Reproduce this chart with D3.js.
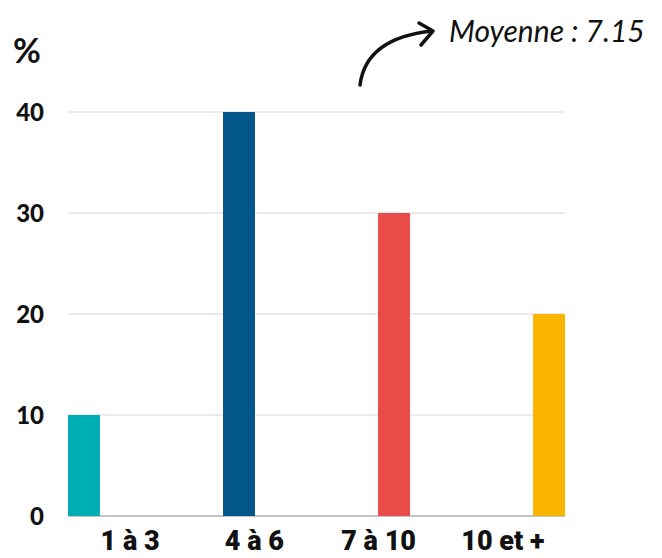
<!DOCTYPE html>
<html>
<head>
<meta charset="utf-8">
<script src="https://cdn.jsdelivr.net/npm/d3@7"></script>
<style>
  body { margin: 0; background: #fff; }
</style>
</head>
<body>
<div class="chart"></div>
<script>
// data
var categories = ["1 à 3", "4 à 6", "7 à 10", "10 et +"];
var values = [10, 40, 30, 20];
var colors = ["#00afb3", "#02568a", "#e84b48", "#fab500"];
var yTicks = [0, 10, 20, 30, 40];
var meanLabel = "Moyenne : 7.15";

var svgWidth = 662;
var svgHeight = 558;

var svg = d3.select(".chart")
    .append("svg")
    .attr("width", svgWidth)
    .attr("height", svgHeight);

// scales
var y = d3.scaleLinear()
    .domain([0, 40])
    .range([516, 112]);

// bars sit at the left of each slot
var xBar = d3.scaleBand()
    .domain(categories)
    .range([68, 565])
    .paddingInner(0.794)
    .paddingOuter(0);

// labels centred on equal quarters
var xLabel = d3.scaleBand()
    .domain(categories)
    .range([68, 565])
    .padding(0);

// gridlines
svg.append("g")
    .selectAll("line")
    .data(yTicks)
    .enter()
    .append("line")
    .attr("x1", 68)
    .attr("x2", 565)
    .attr("y1", d => y(d))
    .attr("y2", d => y(d))
    .attr("stroke", d => d === 0 ? "#c4c4c4" : "#d6d6d6")
    .attr("stroke-width", d => d === 0 ? 2 : 1.2);

// y labels
svg.append("g")
    .selectAll("text")
    .data(yTicks)
    .enter()
    .append("text")
    .attr("x", 44)
    .attr("y", d => y(d))
    .attr("dy", "0.36em")
    .attr("text-anchor", "end")
    .style("font-family", "Lato, 'Open Sans', sans-serif")
    .style("font-weight", 900)
    .style("font-size", "24px")
    .attr("fill", "#111")
    .text(d => d);

// bars
svg.append("g")
    .selectAll("rect")
    .data(values)
    .enter()
    .append("rect")
    .attr("x", (d, i) => xBar(categories[i]))
    .attr("width", xBar.bandwidth())
    .attr("y", d => y(d))
    .attr("height", d => y(0) - y(d))
    .attr("fill", (d, i) => colors[i]);

// category labels
svg.append("g")
    .selectAll("text")
    .data(categories)
    .enter()
    .append("text")
    .attr("x", d => xLabel(d) + xLabel.bandwidth() / 2)
    .attr("y", 550)
    .attr("text-anchor", "middle")
    .style("font-family", "Roboto, sans-serif")
    .style("font-weight", 900)
    .style("font-size", "27px")
    .attr("fill", "#111")
    .text(d => d);

// unit
svg.append("text")
    .attr("x", 13)
    .attr("y", 63)
    .style("font-family", "Lato, sans-serif")
    .style("font-weight", 700)
    .style("font-size", "34px")
    .attr("fill", "#111")
    .text("%");

// mean annotation
svg.append("text")
    .attr("x", 449)
    .attr("y", 42)
    .style("font-family", "Lato, sans-serif")
    .style("font-style", "italic")
    .style("font-weight", 400)
    .style("font-size", "30px")
    .attr("fill", "#111")
    .text(meanLabel);

// hand drawn arrow
svg.append("path")
    .attr("d", "M360,85 Q366,38 432,31")
    .attr("fill", "none")
    .attr("stroke", "#111")
    .attr("stroke-width", 3.5)
    .attr("stroke-linecap", "round");

svg.append("path")
    .attr("d", "M419,23 L433,31 L421,45")
    .attr("fill", "none")
    .attr("stroke", "#111")
    .attr("stroke-width", 3.5)
    .attr("stroke-linecap", "round")
    .attr("stroke-linejoin", "round");
</script>
</body>
</html>
